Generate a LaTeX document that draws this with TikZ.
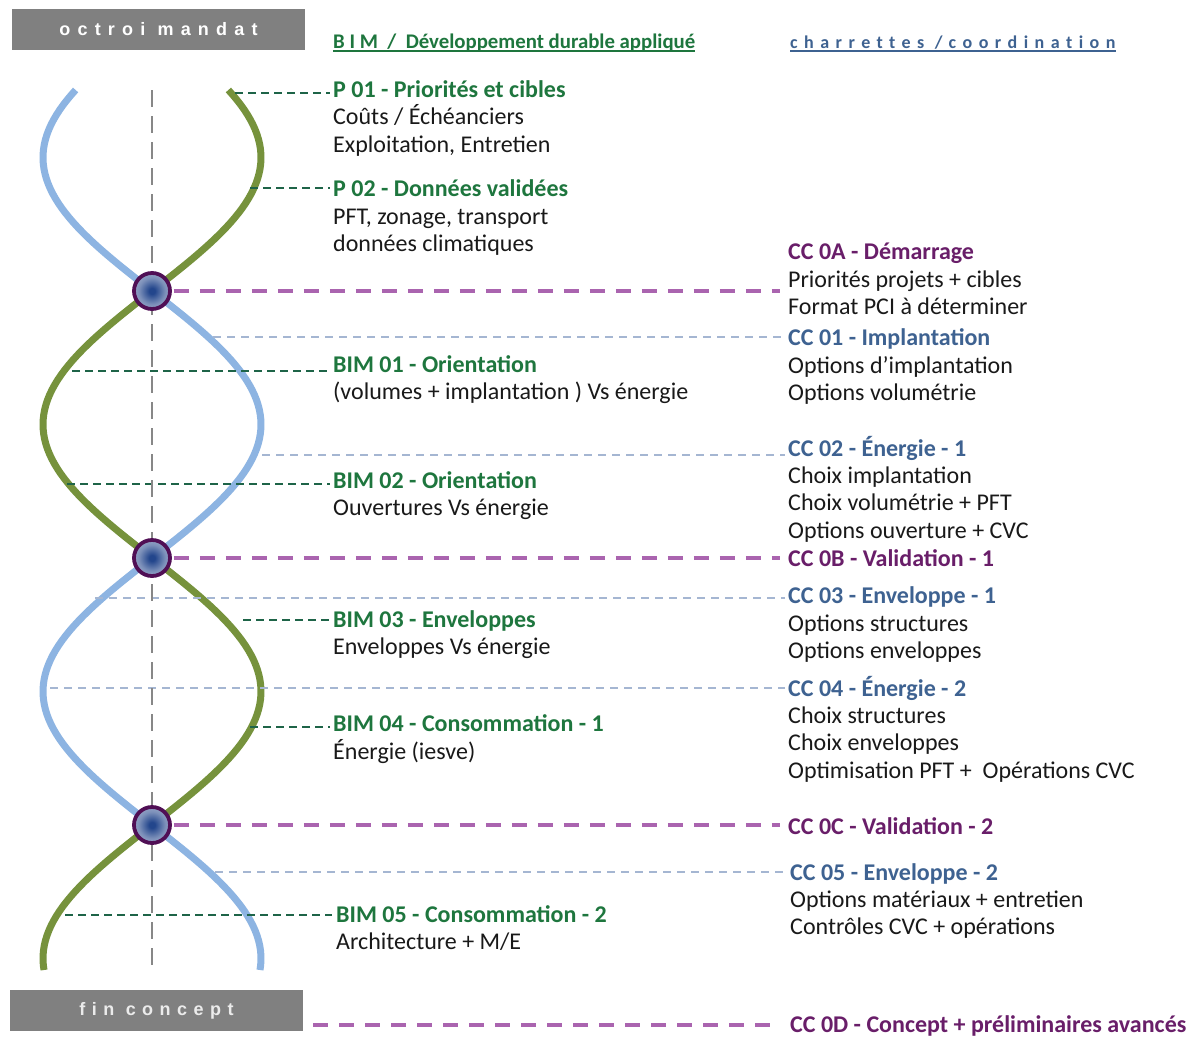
\documentclass[tikz,border=0pt]{standalone}
\usepackage{fontspec}
\setmainfont{Carlito}
\newfontfamily\hdrfont{Liberation Sans}
\definecolor{grnT}{RGB}{30,118,62}
\definecolor{purT}{RGB}{105,30,105}
\definecolor{bluT}{RGB}{62,98,145}
\definecolor{bodyT}{RGB}{25,25,25}
\definecolor{helixB}{RGB}{141,180,226}
\definecolor{helixG}{RGB}{118,146,60}
\definecolor{purL}{RGB}{170,100,175}
\definecolor{ltL}{RGB}{165,182,210}
\definecolor{gL}{RGB}{30,100,72}
\definecolor{boxG}{RGB}{128,128,128}
\definecolor{midG}{RGB}{135,135,135}
\definecolor{hubIn}{RGB}{35,70,140}
\definecolor{hubOut}{RGB}{230,232,240}
\definecolor{hubRing}{RGB}{80,15,85}
\pgfdeclareradialshading{hubshade}{\pgfpoint{0bp}{0bp}}{color(0bp)=(hubIn); color(4bp)=(hubIn); color(18bp)=(hubIn!55!hubOut); color(40bp)=(hubIn!15!hubOut); color(50bp)=(hubOut)}
\tikzset{
  ttl/.style={anchor=base west, inner sep=0pt, font=\bfseries\fontsize{24}{28}\selectfont},
  bod/.style={anchor=base west, inner sep=0pt, text=bodyT, font=\fontsize{24}{28}\selectfont},
  gdash/.style={draw=gL, line width=1.8pt, dash pattern=on 8pt off 5pt},
  ldash/.style={draw=ltL, line width=1.5pt, dash pattern=on 8pt off 6pt},
  pdash/.style={draw=purL, line width=4pt, dash pattern=on 15pt off 11pt},
  hub/.style={circle, minimum size=36pt, inner sep=0pt, draw=hubRing, line width=3.8pt, shading=hubshade},
  hdrbox/.style={fill=boxG, minimum width=293pt, minimum height=41pt, inner sep=0pt}
}
\begin{document}
\begin{tikzpicture}[x=1pt, y=-1pt, line join=round]
\useasboundingbox[fill=white] (0,0) rectangle (1193,1037);

% header boxes
\node[hdrbox, text=white, font=\hdrfont\bfseries\fontsize{18}{20}\selectfont\addfontfeature{LetterSpace=40}] (om) at (158.5,29.5) {octroi mandat};
\node[hdrbox, text=white!92!black, font=\hdrfont\bfseries\fontsize{18}{20}\selectfont\addfontfeature{LetterSpace=36}] (fin) at (156.5,1010.5) {fin concept};

% column headers
\node[anchor=base west, inner sep=0pt, text=grnT, font=\bfseries\fontsize{20.8}{22}\selectfont] (bimh) at (333,48) {B I M\ \ /\ \ Développement durable appliqué};
\draw[grnT, line width=1.3pt] ([yshift=-3pt]bimh.base west) -- ([yshift=-3pt]bimh.base east);
\node[anchor=base west, inner sep=0pt, text=bluT, font=\bfseries\fontsize{18}{20}\selectfont\addfontfeature{LetterSpace=36,Ligatures=NoCommon}] (cch) at (790,48) {charrettes /coordination};
\draw[bluT, line width=1.3pt] ([yshift=-3pt]cch.base west) -- ([yshift=-3pt]cch.base east);

% helix strands
\draw[helixG, line width=7pt] plot[domain=90:970, samples=180, variable=\t] ({152-109*sin(0.6741573*(\t-291))}, \t);
\draw[helixB, line width=7pt] plot[domain=90:970, samples=180, variable=\t] ({152+109*sin(0.6741573*(\t-291))}, \t);

% text blocks (left column)
\node[ttl, text=grnT] (p01) at (333,97.5) {P 01 - Priorités et cibles};
\node[bod] (p01a) at (333,124.5) {Coûts / Échéanciers};
\node[bod] (p01b) at (333,152.5) {Exploitation, Entretien};
\node[ttl, text=grnT] (p02) at (333,196.5) {P 02 - Données validées};
\node[bod] (p02a) at (333,224.5) {PFT, zonage, transport};
\node[bod] (p02b) at (333,251.5) {données climatiques};
\node[ttl, text=grnT] (bim01) at (333,372.5) {BIM 01 - Orientation};
\node[bod] (bim01a) at (333,399.5) {(volumes + implantation ) Vs énergie};
\node[ttl, text=grnT] (bim02) at (333,488.5) {BIM 02 - Orientation};
\node[bod] (bim02a) at (333,515.5) {Ouvertures Vs énergie};
\node[ttl, text=grnT] (bim03) at (333,627.5) {BIM 03 - Enveloppes};
\node[bod] (bim03a) at (333,654.5) {Enveloppes Vs énergie};
\node[ttl, text=grnT] (bim04) at (333,731.5) {BIM 04 - Consommation - 1};
\node[bod] (bim04a) at (333,759.5) {Énergie (iesve)};
\node[ttl, text=grnT] (bim05) at (336,922.5) {BIM 05 - Consommation - 2};
\node[bod] (bim05a) at (336,949.5) {Architecture + M/E};

% text blocks (right column)
\node[ttl, text=purT] (cc0a) at (788,259.5) {CC 0A - Démarrage};
\node[bod] (cc0aa) at (788,287.5) {Priorités projets + cibles};
\node[bod] (cc0ab) at (788,314.5) {Format PCI à déterminer};
\node[ttl, text=bluT] (cc01) at (788,345.5) {CC 01 - Implantation};
\node[bod] (cc01a) at (788,373.5) {Options d’implantation};
\node[bod] (cc01b) at (788,400.5) {Options volumétrie};
\node[ttl, text=bluT] (cc02) at (788,456.5) {CC 02 - Énergie - 1};
\node[bod] (cc02a) at (788,483.5) {Choix implantation};
\node[bod] (cc02b) at (788,510.5) {Choix volumétrie + PFT};
\node[bod] (cc02c) at (788,538.5) {Options ouverture + CVC};
\node[ttl, text=purT] (cc0b) at (788,566.5) {CC 0B - Validation - 1};
\node[ttl, text=bluT] (cc03) at (788,603.5) {CC 03 - Enveloppe - 1};
\node[bod] (cc03a) at (788,631.5) {Options structures};
\node[bod] (cc03b) at (788,658.5) {Options enveloppes};
\node[ttl, text=bluT] (cc04) at (788,696.5) {CC 04 - Énergie - 2};
\node[bod] (cc04a) at (788,723.5) {Choix structures};
\node[bod] (cc04b) at (788,750.5) {Choix enveloppes};
\node[bod] (cc04c) at (788,778.5) {Optimisation PFT +\ \ Opérations CVC};
\node[ttl, text=purT] (cc0c) at (788,834.5) {CC 0C - Validation - 2};
\node[ttl, text=bluT] (cc05) at (790,880.5) {CC 05 - Enveloppe - 2};
\node[bod] (cc05a) at (790,907.5) {Options matériaux + entretien};
\node[bod] (cc05b) at (790,934.5) {Contrôles CVC + opérations};
\node[ttl, text=purT] (cc0d) at (790,1032.5) {CC 0D - Concept + préliminaires avancés};

% connector start points on the strands
\coordinate (sp01) at (235,93);
\coordinate (sp02) at (250,188);
\coordinate (s01) at (213,337);
\coordinate (sb01) at (72,371);
\coordinate (s02) at (262,455);
\coordinate (sb02) at (67,484);
\coordinate (s03) at (95,598);
\coordinate (sb03) at (243,620);
\coordinate (s04) at (50,688);
\coordinate (sb04) at (250,727);
\coordinate (s05) at (215,872);
\coordinate (sb05) at (65,915);
\coordinate (s0d) at (313,1025);

% hubs (positions)
\coordinate (h1) at (152,291);
\coordinate (h2) at (152,558);
\coordinate (h3) at (152,825);

% green connectors
\draw[gdash, shorten >=3pt] (sp01) -- (sp01 -| p01.west);
\draw[gdash, shorten >=3pt] (sp02) -- (sp02 -| p02.west);
\draw[gdash, shorten >=2pt] (sb01) -- (sb01 -| bim01.west);
\draw[gdash, shorten >=3pt] (sb02) -- (sb02 -| bim02.west);
\draw[gdash, shorten >=3pt] (sb03) -- (sb03 -| bim03.west);
\draw[gdash, shorten >=3pt] (sb04) -- (sb04 -| bim04.west);
\draw[gdash, shorten >=4pt] (sb05) -- (sb05 -| bim05.west);
% light connectors
\draw[ldash, shorten >=3pt] (s01) -- (s01 -| cc01.west);
\draw[ldash, shorten >=3pt] (s02) -- (s02 -| cc02.west);
\draw[ldash, shorten >=3pt] (s03) -- (s03 -| cc03.west);
\draw[ldash, shorten >=3pt] (s04) -- (s04 -| cc04.west);
\draw[ldash, shorten >=3pt] (s05) -- (s05 -| cc05.west);

% central axis
\draw[midG, line width=2.5pt, dash pattern=on 17pt off 9pt] (152,90) -- (152,970);

% hub nodes
\node[hub] (n1) at (h1) {};
\node[hub] (n2) at (h2) {};
\node[hub] (n3) at (h3) {};

% purple connectors
\draw[pdash, shorten <=2pt, shorten >=8pt] (n1.east) -- (n1.east -| cc0a.west);
\draw[pdash, shorten <=2pt, shorten >=8pt] (n2.east) -- (n2.east -| cc0b.west);
\draw[pdash, shorten <=2pt, shorten >=8pt] (n3.east) -- (n3.east -| cc0c.west);
\draw[pdash, shorten >=9pt] (s0d) -- (s0d -| cc0d.west);
\end{tikzpicture}
\end{document}
